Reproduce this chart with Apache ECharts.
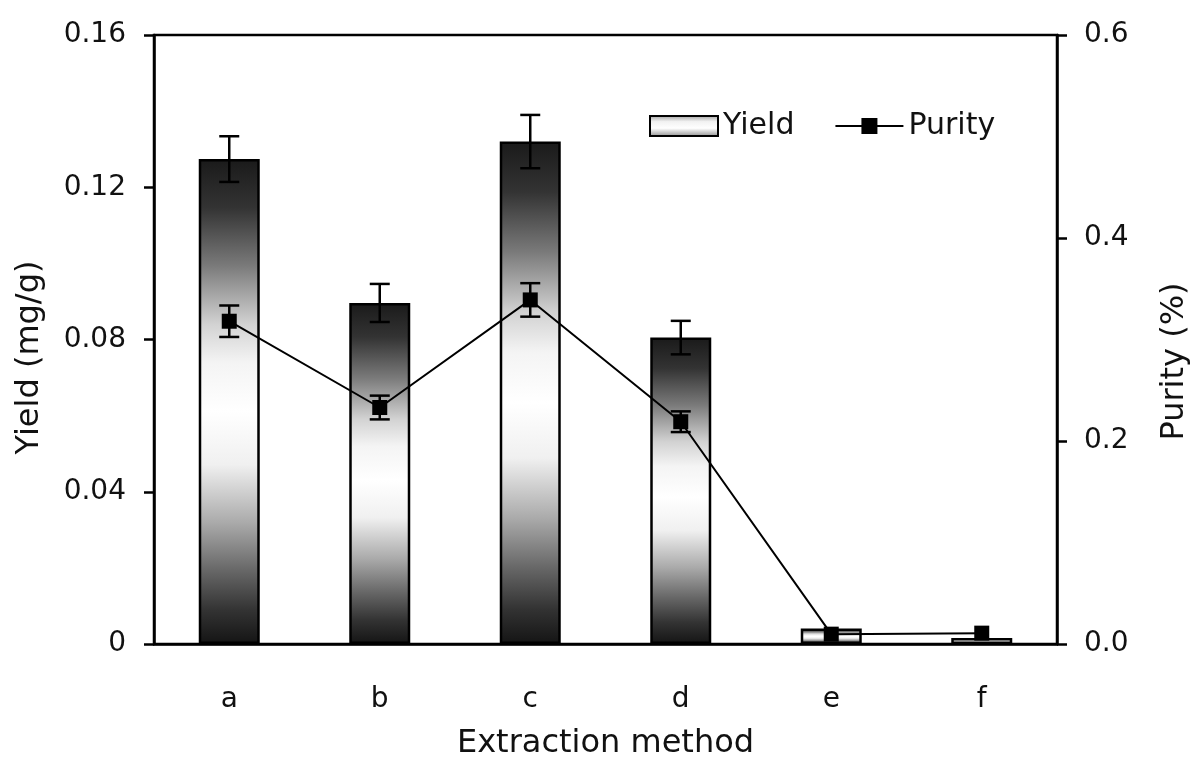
<!DOCTYPE html>
<html>
<head>
<meta charset="utf-8">
<script src="https://cdn.jsdelivr.net/npm/echarts@6/dist/echarts.min.js"></script>
<style>
  html, body { margin: 0; padding: 0; background: #fff; overflow: hidden; }
  #chart { width: 1199px; height: 765px; }
</style>
</head>
<body>
<div id="chart"></div>
<script>
// data
const methods = ['a', 'b', 'c', 'd', 'e', 'f'];
const yieldVals = [0.1274, 0.0896, 0.132, 0.0805, 0.0041, 0.0016];
const yieldErr = [0.006, 0.005, 0.007, 0.0044, 0, 0];
const purityVals = [0.318, 0.233, 0.339, 0.219, 0.0097, 0.0107];
const purityErr = [0.0155, 0.0117, 0.0165, 0.0102, 0, 0];
const yieldTicks = [0, 0.04, 0.08, 0.12, 0.16];
const purityTicks = [0, 0.2, 0.4, 0.6];

const FONT = 'DejaVu Sans';
const INK = '#111';

/** 柱子的漸層：上下深、中間白 */
const barFill = new echarts.graphic.LinearGradient(0, 0, 0, 1, [
  { offset: 0, color: '#1a1a1a' },
  { offset: 0.1, color: '#333333' },
  { offset: 0.22, color: '#7a7a7a' },
  { offset: 0.34, color: '#d2d2d2' },
  { offset: 0.42, color: '#f4f4f4' },
  { offset: 0.52, color: '#ffffff' },
  { offset: 0.63, color: '#f0f0f0' },
  { offset: 0.75, color: '#aaaaaa' },
  { offset: 0.85, color: '#666666' },
  { offset: 0.93, color: '#333333' },
  { offset: 1, color: '#141414' },
]);
const legendFill = new echarts.graphic.LinearGradient(0, 0, 0, 1, [
  { offset: 0, color: '#9a9a9a' },
  { offset: 0.3, color: '#f2f2f2' },
  { offset: 0.6, color: '#ffffff' },
  { offset: 1, color: '#8a8a8a' },
]);

// error bar data: [category index, low, high]
function errData(vals, errs) {
  const out = [];
  vals.forEach((v, i) => {
    if (errs[i] > 0) out.push([i, v - errs[i], v + errs[i]]);
  });
  return out;
}

function renderErr(params, api) {
  const x = api.value(0);
  const lo = api.coord([x, api.value(1)]);
  const hi = api.coord([x, api.value(2)]);
  const hw = 10;
  const style = { stroke: '#000', lineWidth: 2.5 };
  return {
    type: 'group',
    children: [
      { type: 'line', shape: { x1: lo[0], y1: lo[1], x2: hi[0], y2: hi[1] }, style },
      { type: 'line', shape: { x1: lo[0] - hw, y1: lo[1], x2: lo[0] + hw, y2: lo[1] }, style },
      { type: 'line', shape: { x1: hi[0] - hw, y1: hi[1], x2: hi[0] + hw, y2: hi[1] }, style },
    ],
  };
}

const chart = echarts.init(document.getElementById('chart'), null, { renderer: 'canvas' });

chart.setOption({
  animation: false,
  backgroundColor: '#fff',
  textStyle: { fontFamily: FONT, color: INK },
  grid: {
    left: 154,
    right: 134,
    top: 35,
    bottom: 112,
    show: true,
    borderColor: '#000',
    borderWidth: 2.5,
    backgroundColor: 'transparent',
  },
  legend: {
    left: 644,
    top: 106,
    itemWidth: 68,
    itemHeight: 20,
    itemGap: 40,
    textStyle: { fontFamily: FONT, fontSize: 30, color: INK },
    data: [
      { name: 'Yield', icon: 'rect', itemStyle: { color: legendFill, borderColor: '#000', borderWidth: 2 } },
      { name: 'Purity' },
    ],
  },
  xAxis: {
    type: 'category',
    data: methods,
    name: 'Extraction method',
    nameLocation: 'middle',
    nameGap: 84,
    nameTextStyle: { fontFamily: FONT, fontSize: 32, color: INK },
    axisLine: { lineStyle: { color: '#000', width: 2.5 } },
    axisTick: { show: false },
    axisLabel: { fontFamily: FONT, fontSize: 28, color: INK, margin: 42 },
  },
  yAxis: [
    {
      type: 'value',
      min: yieldTicks[0],
      max: yieldTicks[yieldTicks.length - 1],
      interval: yieldTicks[1] - yieldTicks[0],
      position: 'left',
      name: 'Yield (mg/g)',
      nameLocation: 'middle',
      nameGap: 108,
      nameRotate: 90,
      nameTextStyle: { fontFamily: FONT, fontSize: 32, color: INK, padding: [0, 36, 0, 0] },
      axisLine: { show: true, lineStyle: { color: '#000', width: 2.5 } },
      axisTick: { show: true, length: 10, lineStyle: { color: '#000', width: 2.5 } },
      axisLabel: { fontFamily: FONT, fontSize: 28, color: INK, margin: 28 },
      splitLine: { show: false },
    },
    {
      type: 'value',
      min: purityTicks[0],
      max: purityTicks[purityTicks.length - 1],
      interval: purityTicks[1] - purityTicks[0],
      position: 'right',
      name: 'Purity (%)',
      nameLocation: 'middle',
      nameGap: 102,
      nameRotate: 90,
      nameTextStyle: { fontFamily: FONT, fontSize: 32, color: INK, padding: [0, 44, 0, 0] },
      axisLine: { show: true, lineStyle: { color: '#000', width: 2.5 } },
      axisTick: { show: true, length: 10, lineStyle: { color: '#000', width: 2.5 } },
      axisLabel: {
        fontFamily: FONT, fontSize: 28, color: INK, margin: 27,
        formatter: (v) => v.toFixed(1),
      },
      splitLine: { show: false },
    },
  ],
  series: [
    {
      name: 'Yield',
      type: 'bar',
      yAxisIndex: 0,
      data: yieldVals,
      barWidth: 61,
      itemStyle: { color: barFill, borderColor: '#000', borderWidth: 2.5 },
      z: 2,
    },
    {
      type: 'custom',
      yAxisIndex: 0,
      data: errData(yieldVals, yieldErr),
      encode: { x: 0, y: [1, 2] },
      renderItem: renderErr,
      z: 3,
    },
    {
      name: 'Purity',
      type: 'line',
      yAxisIndex: 1,
      data: purityVals,
      symbol: 'rect',
      symbolSize: 15,
      lineStyle: { color: '#000', width: 2 },
      itemStyle: { color: '#000' },
      z: 4,
    },
    {
      type: 'custom',
      yAxisIndex: 1,
      data: errData(purityVals, purityErr),
      encode: { x: 0, y: [1, 2] },
      renderItem: renderErr,
      z: 5,
    },
  ],
});
</script>
</body>
</html>
